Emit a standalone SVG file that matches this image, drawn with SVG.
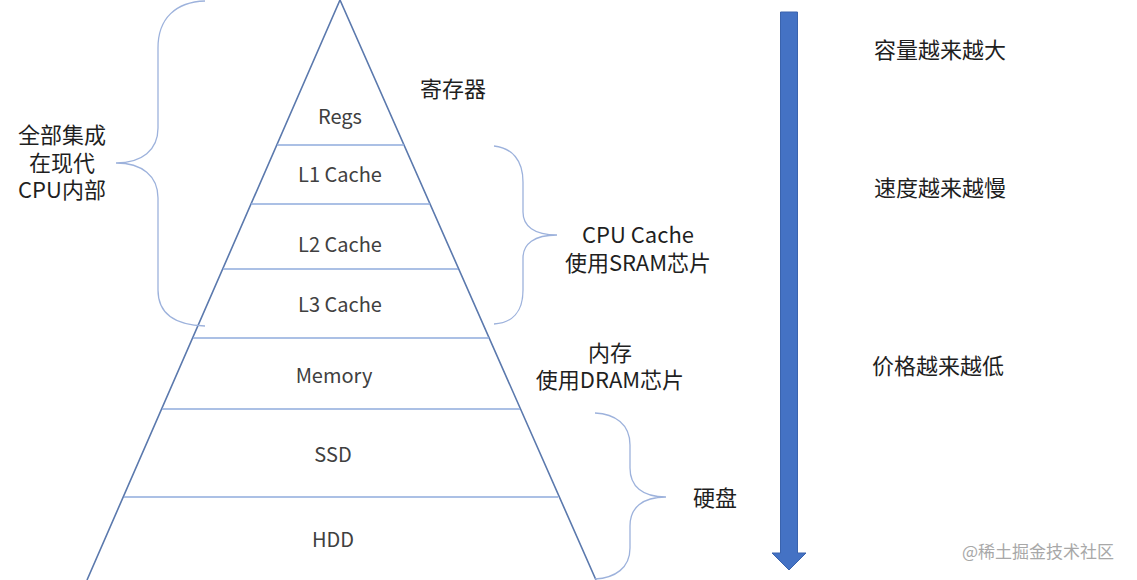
<svg xmlns="http://www.w3.org/2000/svg" width="1137" height="580" viewBox="0 0 1137 580">
<style>
.edge{fill:none;stroke:#5b79ad;stroke-width:1.6}
.div{stroke:#8fabdc;stroke-width:1.4}
.brace{fill:none;stroke:#9db2dc;stroke-width:1.3}
.lbl{font-family:"Noto Sans CJK SC","Noto Sans",sans-serif;font-size:20px;fill:#404040;text-anchor:middle}
.side{font-family:"Noto Sans CJK SC","Noto Sans",sans-serif;font-size:22px;fill:#1f1f1f;text-anchor:middle}
.wm{font-family:"Noto Sans CJK SC",sans-serif;font-size:17px;fill:#a8a8a8;text-anchor:middle}
</style>
<rect width="1137" height="580" fill="#ffffff"/>
<g id="pyramid">
<polyline class="edge" points="87,580 340,0 596,580"/>
<line class="div" x1="277" y1="145" x2="404" y2="145"/>
<line class="div" x1="251" y1="204" x2="430" y2="204"/>
<line class="div" x1="223" y1="269" x2="458" y2="269"/>
<line class="div" x1="193" y1="338" x2="489" y2="338"/>
<line class="div" x1="162" y1="409" x2="520" y2="409"/>
<line class="div" x1="124" y1="497" x2="558" y2="497"/>
</g>
<g id="regs"><text class="lbl" x="340" y="124">Regs</text></g>
<g id="l1"><text class="lbl" x="340" y="182">L1 Cache</text></g>
<g id="l2"><text class="lbl" x="340" y="252">L2 Cache</text></g>
<g id="l3"><text class="lbl" x="340" y="312">L3 Cache</text></g>
<g id="memory"><text class="lbl" x="334" y="383">Memory</text></g>
<g id="ssd"><text class="lbl" x="333" y="462">SSD</text></g>
<g id="hdd"><text class="lbl" x="333" y="547">HDD</text></g>
<g id="label-regs"><text class="side" x="453" y="97">寄存器</text></g>
<g id="label-cpu"><text class="side"><tspan x="62" y="143">全部集成</tspan><tspan x="62" y="171">在现代</tspan><tspan x="62" y="198">CPU内部</tspan></text></g>
<g id="label-cache"><text class="side"><tspan x="638" y="243">CPU Cache</tspan><tspan x="638" y="271">使用SRAM芯片</tspan></text></g>
<g id="label-mem"><text class="side"><tspan x="610" y="361">内存</tspan><tspan x="610" y="388">使用DRAM芯片</tspan></text></g>
<g id="label-disk"><text class="side" x="715" y="506">硬盘</text></g>
<g id="label-cap"><text class="side" x="940" y="58">容量越来越大</text></g>
<g id="label-speed"><text class="side" x="940" y="196">速度越来越慢</text></g>
<g id="label-price"><text class="side" x="938" y="374">价格越来越低</text></g>
<g id="connectors">
<path class="brace" d="M205,1 C176,2 158,18 158,48 L158,128 C158,150 142,163 116,163 C142,163 158,176 158,198 L158,290 C158,314 176,325 205,326"/>
<path class="brace" d="M494,146 C512,148 523,160 523,182 L523,212 C523,226 534,235 557,235 C534,235 523,244 523,258 L523,290 C523,312 512,323 494,324"/>
<path class="brace" d="M595,413 C615,414 630,424 630,445 L630,468 C630,486 642,497 666,497 C642,497 630,508 630,526 L630,548 C630,568 615,578 595,579"/>
<path d="M780.5,12 L797.5,12 L797.5,553 L806,553 L789,570 L772,553 L780.5,553 Z" fill="#4472c4" stroke="#3a63ad" stroke-width="1"/>
</g>
<text class="wm" x="1038" y="558">@稀土掘金技术社区</text>
</svg>
